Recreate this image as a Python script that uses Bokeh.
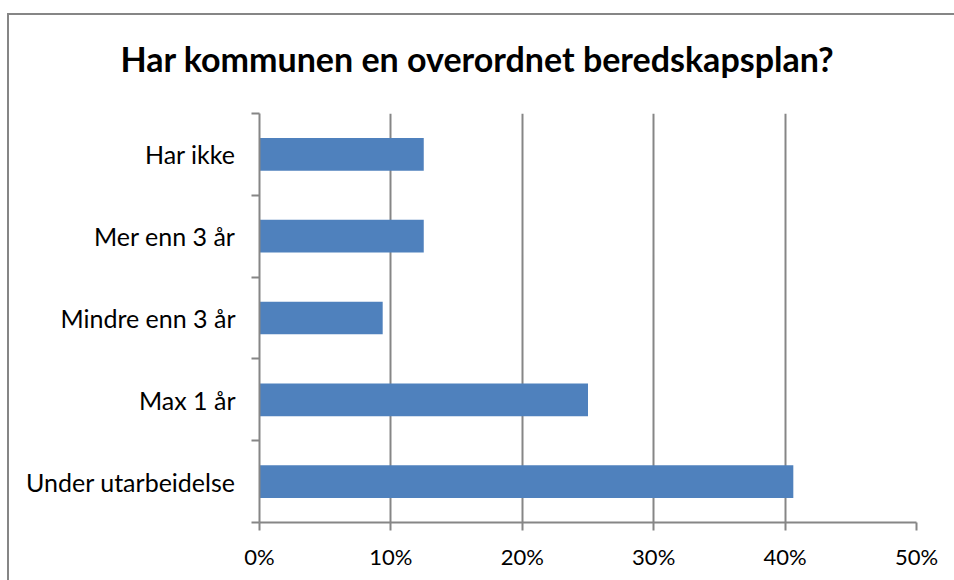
from bokeh.plotting import figure
from bokeh.models import Range1d, FixedTicker, NumeralTickFormatter
from bokeh.embed import file_html
from bokeh.resources import INLINE

title_text = "Har kommunen en overordnet beredskapsplan?"
categories = ["Under utarbeidelse", "Max 1 år", "Mindre enn 3 år", "Mer enn 3 år", "Har ikke"]
shares = [0.40625, 0.25, 0.09375, 0.125, 0.125]
x_ticks = [0.0, 0.1, 0.2, 0.3, 0.4, 0.5]

FONT = "Lato"
GRAY = "#868686"

positions = [i + 0.5 for i in range(len(categories))]
boundaries = [float(i) for i in range(len(categories) + 1)]

frame_styles = {
    "background-color": "white",
    "background-image": f"linear-gradient({GRAY}, {GRAY}), linear-gradient({GRAY}, {GRAY})",
    "background-size": "100% 2px, 2px 100%",
    "background-position": "7px 13px, 7px 13px",
    "background-repeat": "no-repeat",
}

p = figure(width=954, height=580, output_backend="svg", toolbar_location=None,
           x_range=Range1d(0, 0.5), y_range=Range1d(0, len(categories)),
           min_border_left=259, min_border_right=38, min_border_top=113, min_border_bottom=58,
           styles=frame_styles)

p.hbar(y=positions, right=shares, left=0, height=0.4, color="#4F81BD", line_color=None)

p.title.text = title_text
p.title.text_font = FONT
p.title.text_font_style = "bold"
p.title.text_font_size = "34px"
p.title.align = "left"
p.title.vertical_align = "top"
p.title.text_color = "black"
p.title.standoff = 66
p.title.offset = -139

p.outline_line_color = None
p.background_fill_color = "white"
p.border_fill_alpha = 0

# x axis
xa = p.xaxis[0]
xa.ticker = FixedTicker(ticks=x_ticks)
xa.formatter = NumeralTickFormatter(format="0%")
xa.axis_line_color = GRAY
xa.axis_line_width = 2
xa.major_tick_line_color = GRAY
xa.major_tick_line_width = 2
xa.major_tick_in = 0
xa.major_tick_out = 8
xa.minor_tick_line_color = None
xa.major_label_text_font = FONT
xa.major_label_text_font_size = "22px"
xa.major_label_text_color = "black"
xa.major_label_standoff = 12

# y axis: labels at centres, ticks at category boundaries
ya = p.yaxis[0]
ya.ticker = FixedTicker(ticks=positions, minor_ticks=boundaries)
ya.major_label_overrides = {pos: cat for pos, cat in zip(positions, categories)}
ya.axis_line_color = GRAY
ya.axis_line_width = 2
ya.major_tick_line_color = None
ya.major_tick_in = 0
ya.major_tick_out = 0
ya.minor_tick_line_color = GRAY
ya.minor_tick_line_width = 2
ya.minor_tick_in = 0
ya.minor_tick_out = 8
ya.major_label_text_font = FONT
ya.major_label_text_font_size = "25px"
ya.major_label_text_color = "black"
ya.major_label_standoff = 16

p.xgrid.grid_line_color = GRAY
p.xgrid.grid_line_width = 2
p.ygrid.grid_line_color = None

open("out.html", "w").write(file_html(p, INLINE))
